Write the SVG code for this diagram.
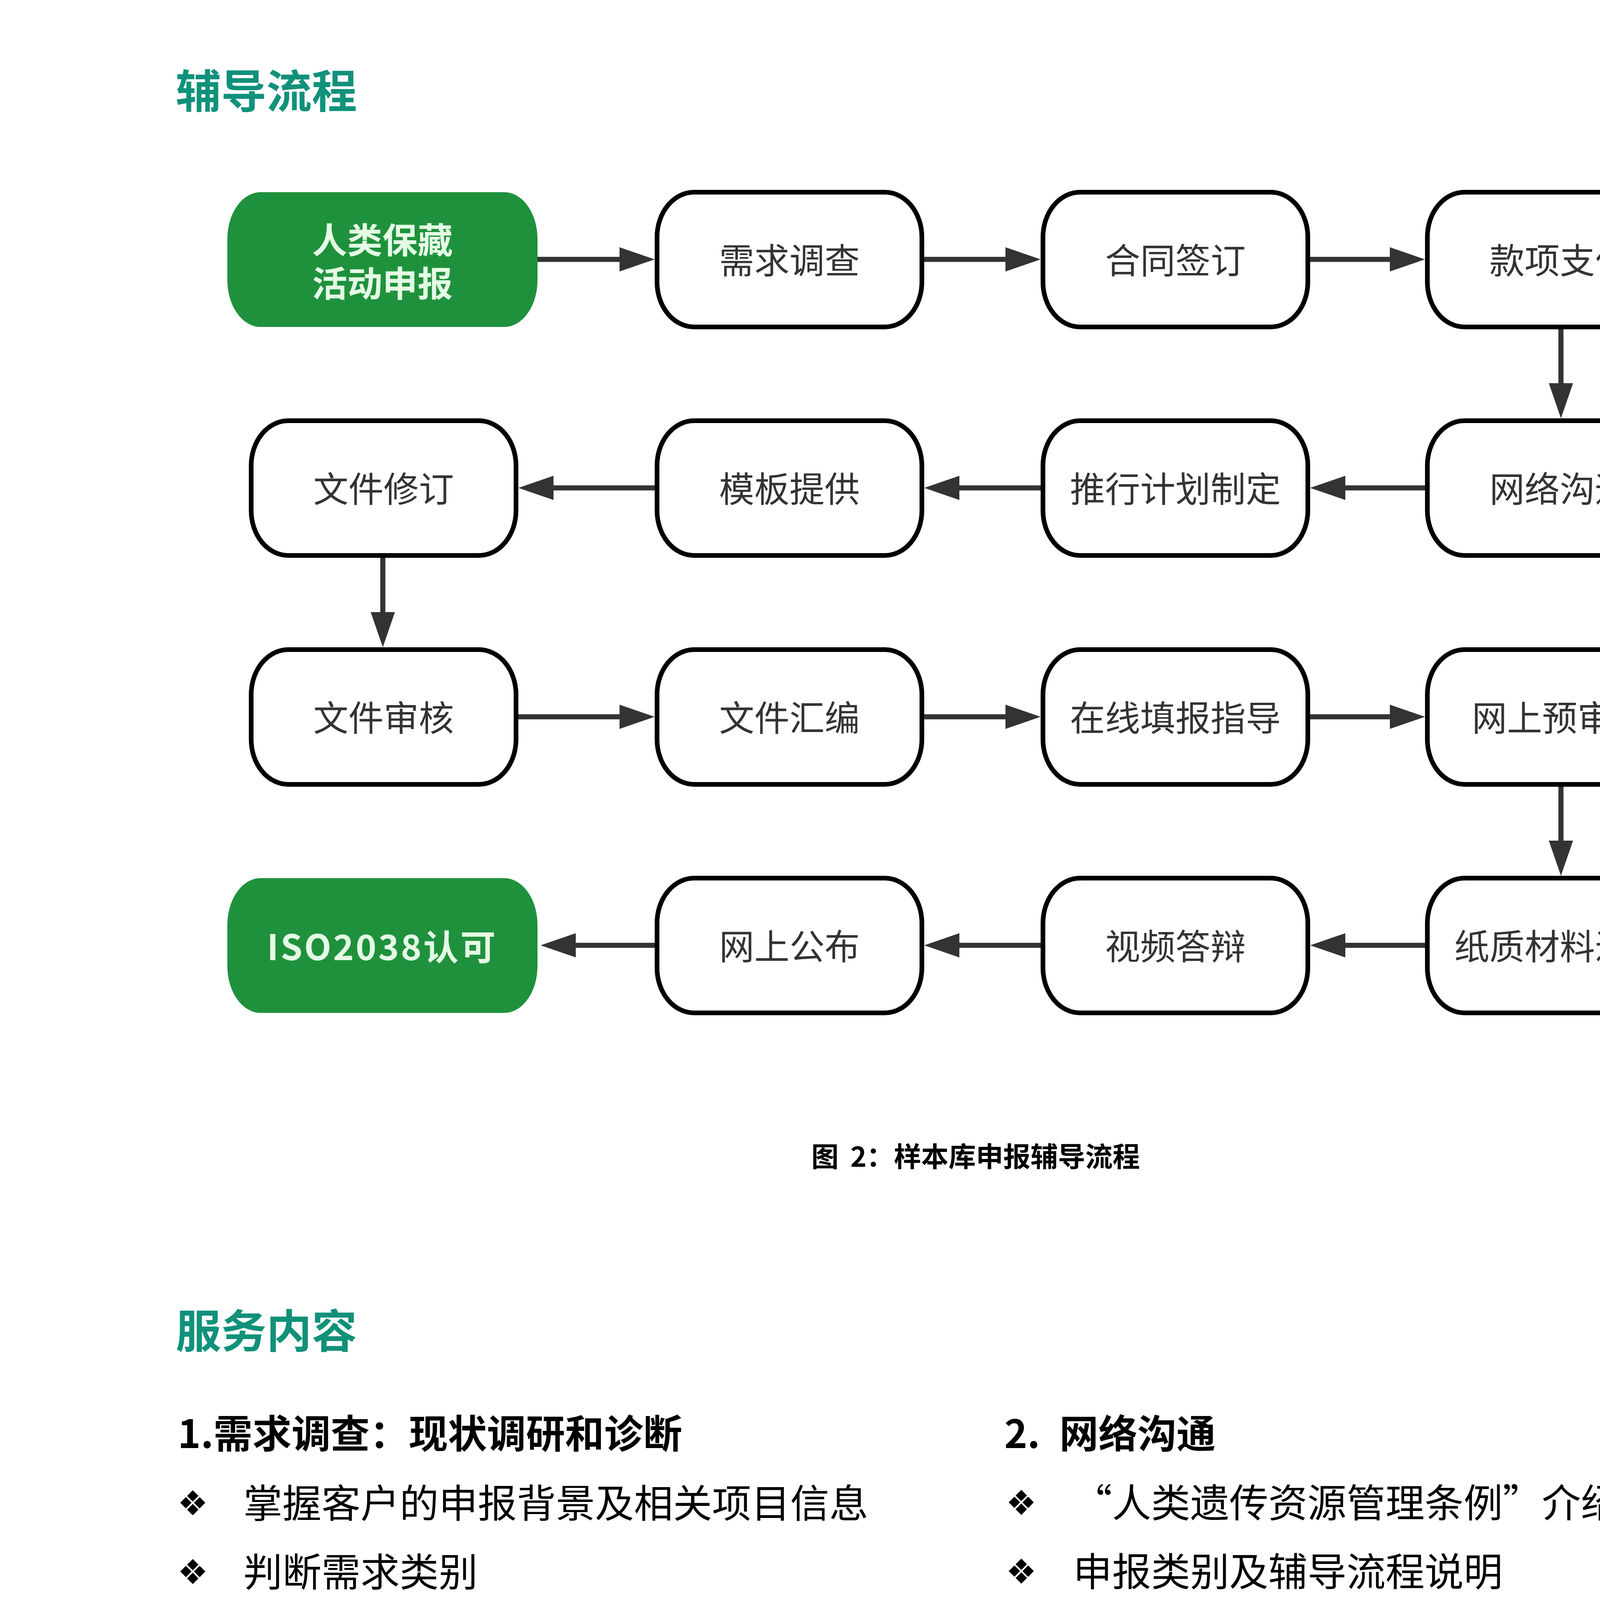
<svg xmlns="http://www.w3.org/2000/svg" width="4958" height="5940" viewBox="0 0 4958 5940">
<style>
.box{fill:#ffffff;stroke:#000000;stroke-width:12}
.gbox{fill:#1f913d}
.lbl{font-family:"Noto Sans CJK SC","Noto Sans",sans-serif;font-size:90px;fill:#333333;text-anchor:middle}
.glbl{font-family:"Noto Sans CJK SC","Noto Sans",sans-serif;font-size:90px;font-weight:700;fill:#e4fbe4;text-anchor:middle}
.conn{fill:none;stroke:#333333;stroke-width:13}
.h1{font-family:"Noto Sans CJK SC","Noto Sans",sans-serif;font-size:116px;font-weight:700;fill:#10917a}
.h2{font-family:"Noto Sans CJK SC","Noto Sans",sans-serif;font-size:100px;font-weight:700;fill:#000000}
.cap{font-family:"Noto Sans CJK SC","Noto Sans",sans-serif;font-size:70px;font-weight:700;fill:#000000}
.item{font-family:"Noto Sans CJK SC","Noto Sans",sans-serif;font-size:100px;fill:#000000}
.bul{font-family:"DejaVu Sans",sans-serif;font-size:88px;fill:#000000}
</style>
<defs>
<marker id="arr" markerUnits="userSpaceOnUse" markerWidth="90" markerHeight="62" viewBox="0 0 90 62" refX="30" refY="31" orient="auto" overflow="visible">
<path d="M0,0 L90,31 L0,62 Z" fill="#333333"/>
</marker>
</defs>
<rect width="4958" height="5940" fill="#ffffff"/>

<text class="h1" x="450" y="276">辅导流程</text>

<g id="connectors">
<path class="conn" marker-end="url(#arr)" d="M1376,664 L1616,664"/>
<path class="conn" marker-end="url(#arr)" d="M2366,664 L2604,664"/>
<path class="conn" marker-end="url(#arr)" d="M3354,664 L3588,664"/>
<path class="conn" marker-end="url(#arr)" d="M3996,843 L3996,1011"/>
<path class="conn" marker-end="url(#arr)" d="M3648,1249 L3414,1249"/>
<path class="conn" marker-end="url(#arr)" d="M2664,1249 L2426,1249"/>
<path class="conn" marker-end="url(#arr)" d="M1676,1249 L1387,1249"/>
<path class="conn" marker-end="url(#arr)" d="M980,1428 L980,1597"/>
<path class="conn" marker-end="url(#arr)" d="M1327,1835 L1616,1835"/>
<path class="conn" marker-end="url(#arr)" d="M2366,1835 L2604,1835"/>
<path class="conn" marker-end="url(#arr)" d="M3354,1835 L3588,1835"/>
<path class="conn" marker-end="url(#arr)" d="M3996,2014 L3996,2182"/>
<path class="conn" marker-end="url(#arr)" d="M3648,2420 L3414,2420"/>
<path class="conn" marker-end="url(#arr)" d="M2664,2420 L2426,2420"/>
<path class="conn" marker-end="url(#arr)" d="M1676,2420 L1444,2420"/>
</g>

<g id="n1"><rect class="gbox" x="582" y="492" width="794" height="345" rx="85" ry="120"/>
<text class="glbl"><tspan x="979" y="648">人类保藏</tspan><tspan x="979" y="759">活动申报</tspan></text></g>
<g id="n2"><rect class="box" x="1682" y="492" width="678" height="345" rx="95" ry="115"/><text class="lbl" x="2021" y="700">需求调查</text></g>
<g id="n3"><rect class="box" x="2670" y="492" width="678" height="345" rx="95" ry="115"/><text class="lbl" x="3009" y="700">合同签订</text></g>
<g id="n4"><rect class="box" x="3654" y="492" width="678" height="345" rx="95" ry="115"/><text class="lbl" x="3993" y="700">款项支付</text></g>

<g id="n5"><rect class="box" x="643" y="1077" width="678" height="345" rx="95" ry="115"/><text class="lbl" x="982" y="1285">文件修订</text></g>
<g id="n6"><rect class="box" x="1682" y="1077" width="678" height="345" rx="95" ry="115"/><text class="lbl" x="2021" y="1285">模板提供</text></g>
<g id="n7"><rect class="box" x="2670" y="1077" width="678" height="345" rx="95" ry="115"/><text class="lbl" x="3009" y="1285">推行计划制定</text></g>
<g id="n8"><rect class="box" x="3654" y="1077" width="678" height="345" rx="95" ry="115"/><text class="lbl" x="3993" y="1285">网络沟通</text></g>

<g id="n9"><rect class="box" x="643" y="1663" width="678" height="345" rx="95" ry="115"/><text class="lbl" x="982" y="1871">文件审核</text></g>
<g id="n10"><rect class="box" x="1682" y="1663" width="678" height="345" rx="95" ry="115"/><text class="lbl" x="2021" y="1871">文件汇编</text></g>
<g id="n11"><rect class="box" x="2670" y="1663" width="678" height="345" rx="95" ry="115"/><text class="lbl" x="3009" y="1871">在线填报指导</text></g>
<g id="n12"><rect class="box" x="3654" y="1663" width="678" height="345" rx="95" ry="115"/><text class="lbl" x="3993" y="1871">网上预审查</text></g>

<g id="n13"><rect class="gbox" x="582" y="2248" width="794" height="345" rx="85" ry="120"/><text class="glbl" x="976" y="2458" textLength="585" lengthAdjust="spacing">ISO2038认可</text></g>
<g id="n14"><rect class="box" x="1682" y="2248" width="678" height="345" rx="95" ry="115"/><text class="lbl" x="2021" y="2456">网上公布</text></g>
<g id="n15"><rect class="box" x="2670" y="2248" width="678" height="345" rx="95" ry="115"/><text class="lbl" x="3009" y="2456">视频答辩</text></g>
<g id="n16"><rect class="box" x="3654" y="2248" width="678" height="345" rx="95" ry="115"/><text class="lbl" x="3993" y="2456">纸质材料递交</text></g>

<text class="cap" x="2077" y="2987">图<tspan dx="30">2：样本库申报辅导流程</tspan></text>

<text class="h1" x="450" y="3450">服务内容</text>

<text class="h2" x="455" y="3707">1.需求调查：现状调研和诊断</text>
<g>
<text class="bul" x="454" y="3879">❖</text><text class="item" x="623" y="3885">掌握客户的申报背景及相关项目信息</text>
<text class="bul" x="454" y="4055">❖</text><text class="item" x="623" y="4061">判断需求类别</text>
<text class="bul" x="454" y="4232">❖</text><text class="item" x="623" y="4238">确认资源及数据是否涉外</text>
<text class="bul" x="454" y="4408">❖</text><text class="item" x="623" y="4414">排查设施配备和环境条件控制情况</text>
<text class="bul" x="454" y="4584">❖</text><text class="item" x="623" y="4590">生物样本库人员配合调研</text>
<text class="bul" x="454" y="4761">❖</text><text class="item" x="623" y="4767">伦理审查条件</text>
<text class="bul" x="454" y="4937">❖</text><text class="item" x="623" y="4943">初步判断是否符合申报条件等</text>
</g>

<text class="h2" y="3707"><tspan x="2571">2.</tspan><tspan x="2712">网络沟通</tspan></text>
<g>
<text class="bul" x="2575" y="3878">❖</text><text class="item" x="2747" y="3884">“人类遗传资源管理条例”介绍</text>
<text class="bul" x="2575" y="4054">❖</text><text class="item" x="2747" y="4060">申报类别及辅导流程说明</text>
<text class="bul" x="2575" y="4231">❖</text><text class="item" x="2747" y="4237">申报材料大纲解释</text>
<text class="bul" x="2575" y="4407">❖</text><text class="item" x="2747" y="4413">常见问题释疑</text>
<text class="bul" x="2575" y="4583">❖</text><text class="item" x="2747" y="4589">推进计划说明等</text>
</g>

<text class="h2" y="5822"><tspan x="455">3.</tspan><tspan x="589">制定推行计划及小组</tspan></text>
</svg>
